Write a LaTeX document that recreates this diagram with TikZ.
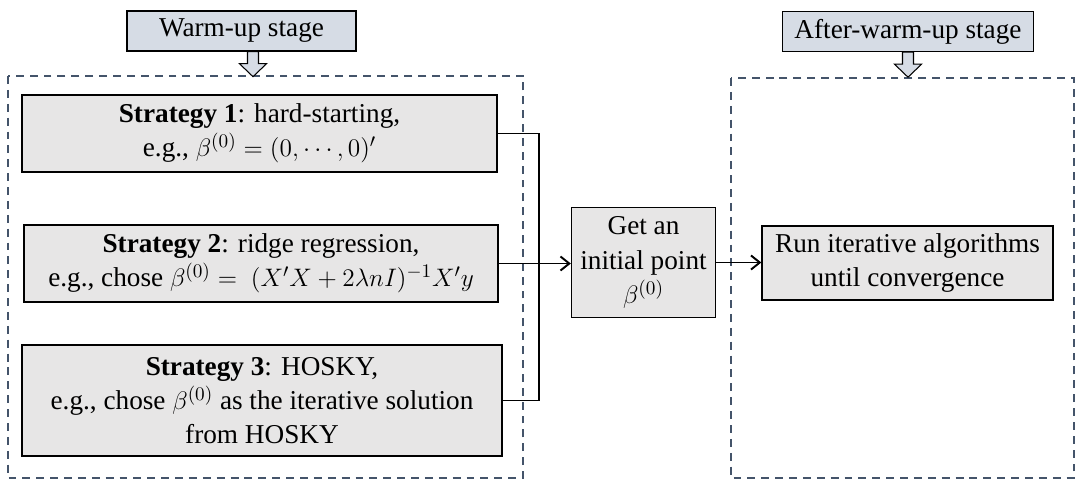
\documentclass[tikz,border=0pt]{standalone}
\usepackage{fontspec}
\setmainfont{Liberation Serif}
\usetikzlibrary{arrows.meta,calc}
\definecolor{cstage}{HTML}{D6DCE5}
\definecolor{cbox}{HTML}{E7E6E6}
\definecolor{cdash}{HTML}{44546A}
\tikzset{
  every picture/.style={>={Straight Barb[length=5pt,width=8pt]}, font=\fontsize{15.5}{19.5}\selectfont},
  stratbox/.style={draw, line width=0.8pt, fill=cbox, align=center, inner sep=2pt},
  stagelab/.style={draw, line width=0.8pt, fill=cstage, inner sep=2pt,
    minimum height=0.8cm},
  stagearr/.style={draw, line width=0.6pt, fill=cstage},
  zone/.style={cdash, line width=1.1pt, dash pattern=on 4.5pt off 3.4pt},
  link/.style={line width=1.1pt},
}
\newcommand{\stagearrow}[1]{% hollow block arrow under a stage label
  \draw[stagearr] ($(#1)+(-5.5,0)$) -- ++(0,12) -- ++(-8,0) -- ++(13.5,13)
    -- ++(13.5,-13) -- ++(-8,0) -- ++(0,-12) -- cycle;
}

\begin{document}
\begin{tikzpicture}[x=0.02cm, y=-0.02cm]
  \useasboundingbox (0,0) rectangle (1084,491);
  % stage frames
  \draw[zone] (8,76) rectangle (523,478);
  \draw[zone] (731,78) rectangle (1074,478);
  % stage labels
  \node[stagelab, minimum width=4.58cm] (warmlab) at (241.5,31) {Warm-up stage};
  \node[stagelab, minimum width=5.02cm] (afterlab) at (908,31.5) {After-warm-up stage};
  \coordinate (warmarr) at ($(warmlab.south)+(11.5,0)$);
  \stagearrow{warmarr}
  \stagearrow{afterlab.south}
  % warm-up strategies
  \node[stratbox, minimum width=9.5cm, minimum height=1.54cm] (s1) at (259.5,133.5)
    {\textbf{Strategy 1}: hard-starting,\\ e.g., $\beta^{(0)} = (0,\cdots,0)'$};
  \node[stratbox, minimum width=9.48cm, minimum height=1.54cm] (s2) at (261,263.5)
    {\textbf{Strategy 2}: ridge regression,\\ e.g., chose $\beta^{(0)} =\ (X'X+2\lambda nI)^{-1}X'y$};
  \node[stratbox, minimum width=9.6cm, minimum height=2.22cm] (s3) at (262,400.5)
    {\textbf{Strategy 3}: HOSKY,\\ e.g., chose $\beta^{(0)}$ as the iterative solution\\ from HOSKY};
  \node[stratbox, minimum width=2.88cm, minimum height=2.2cm] (getpt) at (643.5,262.5)
    {Get an\\ initial point\\ $\beta^{(0)}$};
  \node[stratbox, minimum width=5.82cm, minimum height=1.48cm] (runalg) at (907.5,263)
    {Run iterative algorithms\\ until convergence};
  % connectors
  \draw[link] (s1.east) -- ++(41,0) |- (s3.east);
  \draw[link,->] (s2.east) -- (s2.east -| getpt.west);
  \draw[link,->] (getpt.east) -- (getpt.east -| runalg.west);
\end{tikzpicture}
\end{document}
